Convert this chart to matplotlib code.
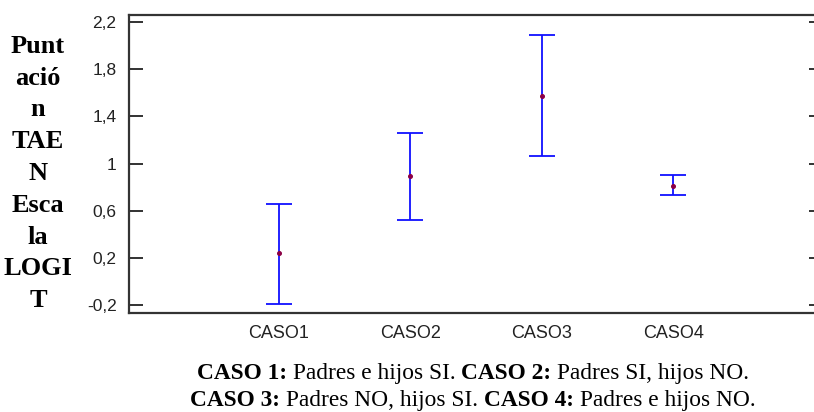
import matplotlib

matplotlib.use("Agg")

import matplotlib.pyplot as plt


cases = ["CASO1", "CASO2", "CASO3", "CASO4"]
means = [0.24, 0.89, 1.57, 0.81]
lower = [-0.19, 0.52, 1.06, 0.73]
upper = [0.66, 1.26, 2.09, 0.90]

ytick_values = [-0.2, 0.2, 0.6, 1.0, 1.4, 1.8, 2.2]
ytick_labels = ["-0,2", "0,2", "0,6", "1", "1,4", "1,8", "2,2"]

ylabel_lines = ["Punt", "ació", "n", "TAE", "N", "Esca", "la", "LOGI", "T"]

caption_lines = [
    [("CASO 1:", True), ("Padres e hijos SI.", False),
     ("CASO 2:", True), ("Padres SI, hijos NO.", False)],
    [("CASO 3:", True), ("Padres NO, hijos SI.", False),
     ("CASO 4:", True), ("Padres e hijos NO.", False)],
]

W, H = 814, 412
SERIF = "Liberation Serif"
SANS = "Liberation Sans"

fig = plt.figure(figsize=(W / 100, H / 100), dpi=100)
ax = fig.add_axes([129 / W, 1 - 313 / H, (823 - 129) / W, (313 - 15) / H])

positions = list(range(1, len(cases) + 1))
err_low = [m - lo for m, lo in zip(means, lower)]
err_high = [hi - m for m, hi in zip(means, upper)]
ax.errorbar(
    positions, means, yerr=[err_low, err_high],
    fmt="none", ecolor="#1010ff", elinewidth=1.3,
    capsize=9.4, capthick=1.3,
)
ax.plot(positions, means, "o", color="#8b0045", markersize=2.6)

ax.set_xlim(-0.14, 5.14)
ax.set_ylim(-0.268, 2.26)
ax.set_xticks(positions)
ax.set_xticklabels(cases, fontfamily=SANS, fontsize=13)
ax.set_yticks(ytick_values)
ax.set_yticklabels(ytick_labels, fontfamily=SANS, fontsize=12.5)

ax.tick_params(axis="x", length=0, pad=9, colors="#222222")
ax.tick_params(axis="y", direction="in", length=10, width=1.3,
               right=True, pad=9, colors="#222222")
for spine in ax.spines.values():
    spine.set_color("#333333")
    spine.set_linewidth(1.6)

# y label, stacked word fragments
for i, word in enumerate(ylabel_lines):
    fig.text(38 / W, 1 - (53 + i * 31.75) / H, word, ha="center",
             va="baseline", fontfamily=SERIF, fontweight="bold",
             fontsize=19)

# caption with bold / normal pieces laid out side by side
renderer = fig.canvas.get_renderer()
cap_size = 16.8
probe = fig.text(0, 0, "a a", fontfamily=SERIF, fontsize=cap_size)
w_sp = probe.get_window_extent(renderer).width
probe.set_text("aa")
w_sp -= probe.get_window_extent(renderer).width
probe.remove()

center_x = 473
baselines = [379, 406]
for pieces, base in zip(caption_lines, baselines):
    texts = []
    widths = []
    for txt, bold in pieces:
        t = fig.text(0, 1 - base / H, txt, va="baseline", ha="left",
                     fontfamily=SERIF, fontsize=cap_size,
                     fontweight="bold" if bold else "normal")
        texts.append(t)
        widths.append(t.get_window_extent(renderer).width)
    total = sum(widths) + w_sp * (len(pieces) - 1)
    x = center_x - total / 2
    for t, w in zip(texts, widths):
        t.set_x(x / W)
        x += w + w_sp

fig.savefig("out.png", dpi=100)
